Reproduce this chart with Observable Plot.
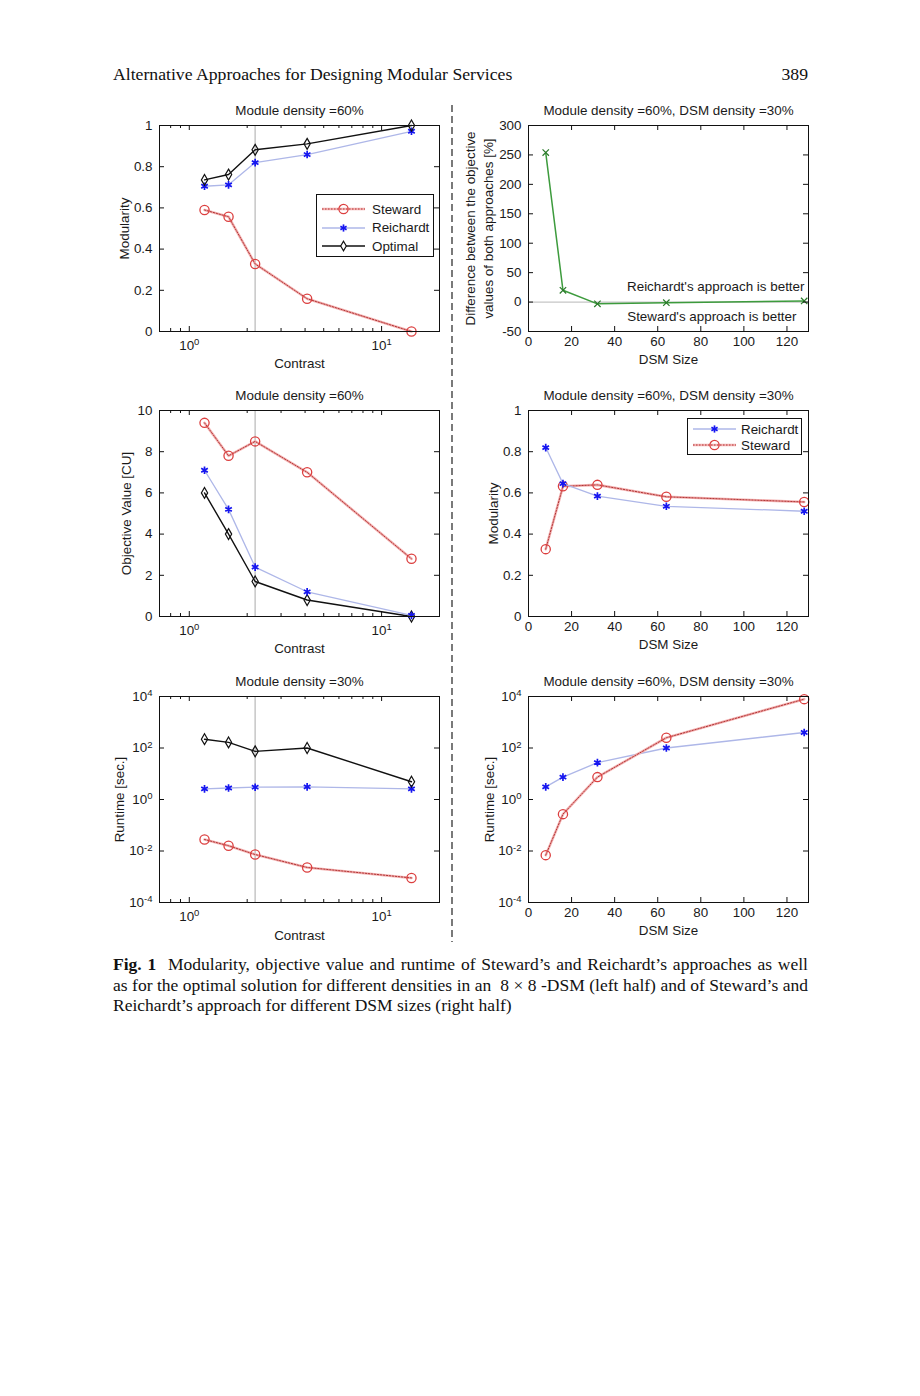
<!DOCTYPE html>
<html><head><meta charset="utf-8">
<script src="https://cdn.jsdelivr.net/npm/d3@7"></script>
<script src="https://cdn.jsdelivr.net/npm/@observablehq/plot@0.6"></script>
<style>
body{margin:0;background:#fff;}
#page{position:relative;width:920px;height:1396px;background:#fff;overflow:hidden;}
.serif{position:absolute;font-family:"Liberation Serif","Times New Roman",serif;color:#111;}
.capline{position:absolute;left:113px;width:695px;white-space:nowrap;font-family:"Liberation Serif","Times New Roman",serif;color:#111;}
.just{text-align:justify;text-align-last:justify;}
.legend{position:absolute;border:1px solid #111;background:#fff;font-family:"Liberation Sans",Arial,sans-serif;font-size:13.4px;color:#1a1a1a;box-sizing:border-box;}
.legend .row{position:absolute;left:0;height:16px;display:flex;align-items:center;white-space:nowrap;}
</style></head><body><div id="page"></div><script>
// ---------- data ----------
const contrast = [1.2, 1.6, 2.2, 4.1, 14.3];
const contrastMarker = [2.2];
const modStewardC   = [0.59, 0.557, 0.328, 0.159, 0.0];
const modReichardtC = [0.705, 0.712, 0.82, 0.859, 0.972];
const modOptimalC   = [0.736, 0.762, 0.882, 0.911, 1.0];
const objStewardC   = [9.4, 7.8, 8.5, 7.0, 2.8];
const objReichardtC = [7.1, 5.2, 2.4, 1.2, 0.05];
const objOptimalC   = [6.0, 4.0, 1.7, 0.8, 0.0];
const rtStewardC    = [0.028, 0.016, 0.0073, 0.0023, 0.0009];
const rtReichardtC  = [2.6, 2.8, 3.0, 3.1, 2.6];
const rtOptimalC    = [220, 165, 74, 100, 4.9];
const dsmSize = [8, 16, 32, 64, 128];
const diffPct = [254, 20, -3, -1, 2];
const diffBaseline = [0];
const modReichardtD = [0.82, 0.645, 0.584, 0.535, 0.511];
const modStewardD   = [0.327, 0.632, 0.639, 0.581, 0.556];
const rtReichardtD  = [3.1, 7.4, 27, 100, 400];
const rtStewardD    = [0.0069, 0.27, 7.4, 250, 7900];

// ---------- ticks / labels ----------
const contrastTicks = [1, 10];
const contrastTickLabels = ["10^0", "10^1"];
const contrastMinorTicks = [0.8, 0.9, 2, 3, 4, 5, 6, 7, 8, 9, 20];
const dsmTicks = [0, 20, 40, 60, 80, 100, 120];
const modTicks = [0, 0.2, 0.4, 0.6, 0.8, 1];
const objTicks = [0, 2, 4, 6, 8, 10];
const diffTicks = [-50, 0, 50, 100, 150, 200, 250, 300];
const rtTicks = [1e-4, 1e-2, 1, 1e2, 1e4];
const rtTickLabels = ["10^-4", "10^-2", "10^0", "10^2", "10^4"];
const titleL60 = "Module density =60%";
const titleL30 = "Module density =30%";
const titleR = "Module density =60%, DSM density =30%";

// ---------- helpers ----------
const page = document.getElementById("page");
const FW = 280, FH = 206, MT = 30, MB = 48, MR = 12;
const FONT = "13.4px";
const zip = (xs, ys) => xs.map((x, i) => ({x, y: ys[i]}));

function stewardMarks(d) { return [
  Plot.line(d, {x: "x", y: "y", stroke: "#f4b3b3", strokeWidth: 2.6}),
  Plot.line(d, {x: "x", y: "y", stroke: "#b23636", strokeWidth: 1, strokeDasharray: "1.5,1.5"}),
  Plot.dot(d, {x: "x", y: "y", r: 4.6, stroke: "#dc3f3f", strokeWidth: 1.3, fill: "none"})
];}
function reichardtMarks(d) { return [
  Plot.line(d, {x: "x", y: "y", stroke: "#aeb7e8", strokeWidth: 1.3}),
  Plot.dot(d, {x: "x", y: "y", r: 3.6, symbol: "asterisk", stroke: "#1616f0", strokeWidth: 1.7})
];}
function optimalMarks(d) { return [
  Plot.line(d, {x: "x", y: "y", stroke: "#111", strokeWidth: 1.4}),
  Plot.dot(d, {x: "x", y: "y", r: 3.3, symbol: "diamond", stroke: "#111", strokeWidth: 1.2, fill: "none"})
];}
function diffMarks(d) { return [
  Plot.line(d, {x: "x", y: "y", stroke: "#3d9b3d", strokeWidth: 1.5}),
  Plot.dot(d, {x: "x", y: "y", r: 3, symbol: "times", stroke: "#2a7a2a", strokeWidth: 1.2})
];}

const fmtPow = (labels, ticks) => (v) => labels[ticks.indexOf(v)] ?? "";

function panel(o) {
  const width = o.mL + FW + MR, height = MT + FH + MB;
  const marks = [
    ...(o.under || []),
    ...o.marks,
    Plot.frame({stroke: "#111", strokeWidth: 1}),
    Plot.tickX(o.xTicks, {x: d => d, insetTop: FH - 5, stroke: "#111"}),
    Plot.tickX(o.xTicks, {x: d => d, insetBottom: FH - 5, stroke: "#111"}),
    Plot.tickY(o.yTicks, {y: d => d, insetRight: FW - 5, stroke: "#111"}),
    Plot.tickY(o.yTicks, {y: d => d, insetLeft: FW - 5, stroke: "#111"}),
    Plot.axisX({ticks: o.xTicks, tickSize: 0, tickPadding: o.xPad, tickFormat: o.xFmt, label: null}),
    Plot.axisY({ticks: o.yTicks, tickSize: 0, tickPadding: 7, tickFormat: o.yFmt, label: null}),
    Plot.text([o.title], {frameAnchor: "top", lineAnchor: "middle", dy: -15, text: d => d}),
    Plot.text([o.xlabel], {frameAnchor: "bottom", lineAnchor: "middle", dy: o.xlDy, text: d => d}),
    Plot.text([o.ylabel], {frameAnchor: "left", textAnchor: "middle", lineAnchor: "middle", dx: -o.ylDx, rotate: -90, text: d => d, lineHeight: 1.32}),
    ...(o.extra || [])
  ];
  if (o.xMinor) {
    marks.push(Plot.tickX(o.xMinor, {x: d => d, insetTop: FH - 3, stroke: "#111"}));
    marks.push(Plot.tickX(o.xMinor, {x: d => d, insetBottom: FH - 3, stroke: "#111"}));
  }
  const svg = Plot.plot({
    width, height, marginLeft: o.mL, marginRight: MR, marginTop: MT, marginBottom: MB,
    style: {fontFamily: "'Liberation Sans', Arial, sans-serif", fontSize: FONT, color: "#1a1a1a", background: "transparent", overflow: "visible"},
    x: o.x, y: o.y,
    marks
  });
  // superscript exponents
  svg.querySelectorAll("text").forEach(t => {
    const m = t.textContent.match(/^10\^(-?\d+)$/);
    if (m && t.children.length === 0) {
      t.textContent = "10";
      const ts = document.createElementNS("http://www.w3.org/2000/svg", "tspan");
      ts.setAttribute("dy", "-0.5em");
      ts.setAttribute("font-size", "9.5px");
      ts.textContent = m[1];
      t.appendChild(ts);
    }
  });
  svg.style.position = "absolute";
  svg.style.left = (o.fx - o.mL) + "px";
  svg.style.top = (o.fy - MT) + "px";
  page.appendChild(svg);
}

const L = 159, R = 528;
const rows = [125, 410, 696];
const xLog = {type: "log", domain: [0.7, 20]};
const xLin = {type: "linear", domain: [0, 130]};
const guide = [Plot.ruleX(contrastMarker, {x: d => d, stroke: "#c6c6c6", strokeWidth: 1.5})];

// Panel 1
panel({fx: L, fy: rows[0], mL: 59, x: xLog, y: {domain: [0, 1]},
  under: guide,
  marks: [...stewardMarks(zip(contrast, modStewardC)), ...reichardtMarks(zip(contrast, modReichardtC)), ...optimalMarks(zip(contrast, modOptimalC))],
  xTicks: contrastTicks, xFmt: fmtPow(contrastTickLabels, contrastTicks), xMinor: contrastMinorTicks, xPad: 9,
  yTicks: modTicks, yFmt: d => String(d),
  title: titleL60, xlabel: "Contrast", xlDy: 32, ylabel: "Modularity", ylDx: 36});

// Panel 2
panel({fx: R, fy: rows[0], mL: 73, x: xLin, y: {domain: [-50, 300]},
  under: [Plot.ruleY(diffBaseline, {y: d => d, stroke: "#c6c6c6", strokeWidth: 1.2})],
  marks: diffMarks(zip(dsmSize, diffPct)),
  xTicks: dsmTicks, xFmt: d => String(d), xPad: 5,
  yTicks: diffTicks, yFmt: d => String(d),
  title: titleR, xlabel: "DSM Size", xlDy: 28,
  ylabel: "Difference between the objective\nvalues of both approaches [%]", ylDx: 50,
  extra: [
    Plot.text(diffBaseline, {y: d => d, frameAnchor: "right", textAnchor: "end", dx: -4, dy: -15, text: () => "Reichardt's approach is better"}),
    Plot.text(diffBaseline, {y: d => d, frameAnchor: "right", textAnchor: "end", dx: -12, dy: 15, text: () => "Steward's approach is better"})
  ]});

// Panel 3
panel({fx: L, fy: rows[1], mL: 59, x: xLog, y: {domain: [0, 10]},
  under: guide,
  marks: [...stewardMarks(zip(contrast, objStewardC)), ...optimalMarks(zip(contrast, objOptimalC)), ...reichardtMarks(zip(contrast, objReichardtC))],
  xTicks: contrastTicks, xFmt: fmtPow(contrastTickLabels, contrastTicks), xMinor: contrastMinorTicks, xPad: 9,
  yTicks: objTicks, yFmt: d => String(d),
  title: titleL60, xlabel: "Contrast", xlDy: 32, ylabel: "Objective Value [CU]", ylDx: 34});

// Panel 4
panel({fx: R, fy: rows[1], mL: 73, x: xLin, y: {domain: [0, 1]},
  marks: [...stewardMarks(zip(dsmSize, modStewardD)), ...reichardtMarks(zip(dsmSize, modReichardtD))],
  xTicks: dsmTicks, xFmt: d => String(d), xPad: 5,
  yTicks: modTicks, yFmt: d => String(d),
  title: titleR, xlabel: "DSM Size", xlDy: 28, ylabel: "Modularity", ylDx: 36});

// Panel 5
panel({fx: L, fy: rows[2], mL: 59, x: xLog, y: {type: "log", domain: [1e-4, 1e4]},
  under: guide,
  marks: [...stewardMarks(zip(contrast, rtStewardC)), ...reichardtMarks(zip(contrast, rtReichardtC)), ...optimalMarks(zip(contrast, rtOptimalC))],
  xTicks: contrastTicks, xFmt: fmtPow(contrastTickLabels, contrastTicks), xMinor: contrastMinorTicks, xPad: 9,
  yTicks: rtTicks, yFmt: fmtPow(rtTickLabels, rtTicks),
  title: titleL30, xlabel: "Contrast", xlDy: 33, ylabel: "Runtime [sec.]", ylDx: 41});

// Panel 6
panel({fx: R, fy: rows[2], mL: 73, x: xLin, y: {type: "log", domain: [1e-4, 1e4]},
  marks: [...reichardtMarks(zip(dsmSize, rtReichardtD)), ...stewardMarks(zip(dsmSize, rtStewardD))],
  xTicks: dsmTicks, xFmt: d => String(d), xPad: 5,
  yTicks: rtTicks, yFmt: fmtPow(rtTickLabels, rtTicks),
  title: titleR, xlabel: "DSM Size", xlDy: 28, ylabel: "Runtime [sec.]", ylDx: 40});

// ---------- legends ----------
const legendSwatch = {
  Steward: `<line x1="0" y1="7" x2="43" y2="7" stroke="#f4b3b3" stroke-width="2.6"/><line x1="0" y1="7" x2="43" y2="7" stroke="#b23636" stroke-width="1" stroke-dasharray="1.5,1.5"/><circle cx="21.5" cy="7" r="4.6" fill="none" stroke="#dc3f3f" stroke-width="1.3"/>`,
  Reichardt: `<line x1="0" y1="7" x2="43" y2="7" stroke="#aeb7e8" stroke-width="1.3"/><g stroke="#1616f0" stroke-width="1.7"><line x1="21.5" y1="3.4" x2="21.5" y2="10.6"/><line x1="18.4" y1="5.2" x2="24.6" y2="8.8"/><line x1="18.4" y1="8.8" x2="24.6" y2="5.2"/></g>`,
  Optimal: `<line x1="0" y1="7" x2="43" y2="7" stroke="#111" stroke-width="1.4"/><path d="M21.5,2.2L24.3,7L21.5,11.8L18.7,7Z" fill="#fff" stroke="#111" stroke-width="1.2"/>`
};
function legend(names, left, top, w, h, first, step, textX) {
  const box = document.createElement("div");
  box.className = "legend";
  Object.assign(box.style, {left: left + "px", top: top + "px", width: w + "px", height: h + "px"});
  names.forEach((n, i) => {
    const row = document.createElement("div");
    row.className = "row";
    row.style.top = (first + i * step - 8) + "px";
    row.innerHTML = `<svg width="${textX}" height="14" style="overflow:visible"><g transform="translate(5,0)">${legendSwatch[n]}</g></svg><span>${n}</span>`;
    box.appendChild(row);
  });
  page.appendChild(box);
}
legend(["Steward", "Reichardt", "Optimal"], 316, 194, 118, 63, 14, 18.6, 55);
legend(["Reichardt", "Steward"], 687, 418, 115, 37, 10, 16, 53);

// ---------- separator ----------
const sep = document.createElementNS("http://www.w3.org/2000/svg", "svg");
sep.setAttribute("width", "6"); sep.setAttribute("height", "850");
Object.assign(sep.style, {position: "absolute", left: "449px", top: "100px"});
sep.innerHTML = `<line x1="3" y1="5" x2="3" y2="842" stroke="#333" stroke-width="1.3" stroke-dasharray="7,4"/>`;
page.appendChild(sep);

// ---------- header & caption ----------
const hdr = document.createElement("div");
hdr.className = "serif";
Object.assign(hdr.style, {left: "113px", top: "64px", fontSize: "17.7px"});
hdr.textContent = "Alternative Approaches for Designing Modular Services";
page.appendChild(hdr);
const pg = document.createElement("div");
pg.className = "serif";
Object.assign(pg.style, {left: "700px", width: "108px", top: "64px", fontSize: "17.7px", textAlign: "right"});
pg.textContent = "389";
page.appendChild(pg);

const captionLines = [
  `<b>Fig. 1</b>&nbsp; Modularity, objective value and runtime of Steward’s and Reichardt’s approaches as well`,
  `as for the optimal solution for different densities in an &nbsp;8 × 8 -DSM (left half) and of Steward’s and`,
  `Reichardt’s approach for different DSM sizes (right half)`
];
const capEls = captionLines.map((html, i) => {
  const el = document.createElement("div");
  el.className = "capline" + (i < 2 ? " just" : "");
  el.style.top = (954 + i * 20.6) + "px";
  el.innerHTML = html;
  page.appendChild(el);
  return el;
});
let fs = 17.6;
const fits = () => capEls.every(el => { el.style.textAlignLast = "auto"; el.style.textAlign = "left"; el.style.display = "inline-block"; el.style.width = "auto"; const w = el.getBoundingClientRect().width; return w <= 693; });
for (; fs > 14; fs -= 0.1) { capEls.forEach(el => el.style.fontSize = fs + "px"); if (fits()) break; }
capEls.forEach((el, i) => { el.style.display = "block"; el.style.width = "695px"; el.style.textAlign = i < 2 ? "justify" : "left"; el.style.textAlignLast = i < 2 ? "justify" : "auto"; el.style.fontSize = fs + "px"; });
</script></body></html>
